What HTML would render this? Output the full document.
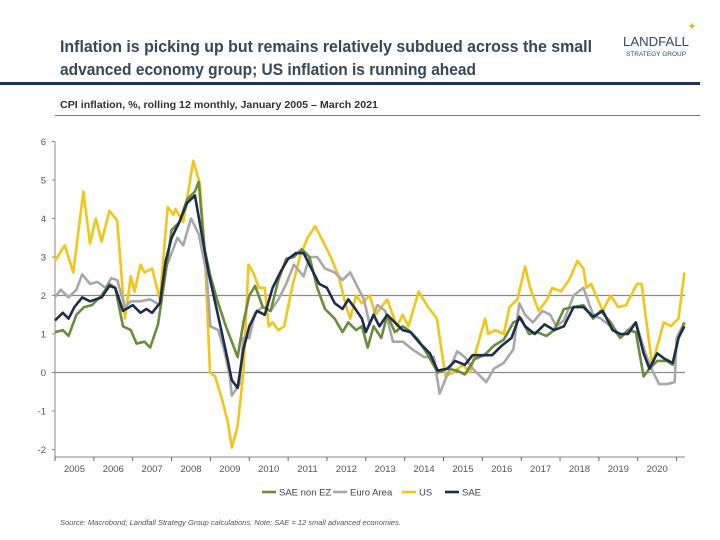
<!DOCTYPE html>
<html><head><meta charset="utf-8">
<style>
body{margin:0;background:#fff;width:720px;height:540px;overflow:hidden;font-family:"Liberation Sans",sans-serif;}
svg{display:block}
</style></head>
<body>
<svg id="c" width="720" height="540" xmlns="http://www.w3.org/2000/svg">
<text x="60" y="52" font-size="16.5" font-weight="bold" fill="#3b4656" textLength="532" lengthAdjust="spacingAndGlyphs">Inflation is picking up but remains relatively subdued across the small</text>
<text x="60" y="75" font-size="16.5" font-weight="bold" fill="#3b4656" textLength="416" lengthAdjust="spacingAndGlyphs">advanced economy group; US inflation is running ahead</text>
<g>
<text x="656" y="46" font-size="13" text-anchor="middle" fill="#2f4a6a" textLength="66" lengthAdjust="spacingAndGlyphs">LANDFALL</text>
<text x="656" y="56" font-size="6.5" text-anchor="middle" fill="#2f4a6a">STRATEGY GROUP</text>
<text x="692" y="30" font-size="11" text-anchor="middle" fill="#e0b62a">✦</text>
</g>
<rect x="0" y="82" width="700" height="3" fill="#1f3557"/>
<text x="60" y="108" font-size="10" font-weight="bold" fill="#333" textLength="318" lengthAdjust="spacingAndGlyphs">CPI inflation, %, rolling 12 monthly, January 2005 – March 2021</text>
<line x1="55" y1="115.5" x2="700" y2="115.5" stroke="#555" stroke-width="0.8"/>
<g id="axes"></g>
<g id="series"></g>
<g id="legend"></g>
<text x="60" y="525" font-size="7.5" font-style="italic" fill="#555">Source: Macrobond;  Landfall Strategy Group calculations. Note: SAE = 12 small advanced economies.</text>
</svg>
<script>
const yTicks=[-2,-1,0,1,2,3,4,5,6];
const gridValues=[0,2];
const years=[2005,2006,2007,2008,2009,2010,2011,2012,2013,2014,2015,2016,2017,2018,2019,2020];
const usT=[2005.0,2005.25,2005.47,2005.73,2005.9,2006.05,2006.2,2006.4,2006.6,2006.8,2006.95,2007.05,2007.2,2007.3,2007.5,2007.7,2007.9,2008.05,2008.1,2008.3,2008.56,2008.73,2008.86,2008.99,2009.12,2009.3,2009.45,2009.55,2009.7,2009.85,2009.98,2010.1,2010.25,2010.4,2010.5,2010.6,2010.75,2010.9,2011.1,2011.3,2011.5,2011.7,2011.9,2012.1,2012.3,2012.5,2012.6,2012.75,2012.9,2013.1,2013.25,2013.55,2013.8,2013.95,2014.1,2014.36,2014.6,2014.83,2015.05,2015.25,2015.5,2015.68,2015.85,2016.07,2016.15,2016.33,2016.55,2016.7,2016.9,2017.1,2017.23,2017.45,2017.67,2017.8,2018.02,2018.23,2018.45,2018.6,2018.68,2018.8,2018.97,2019.1,2019.3,2019.5,2019.7,2019.98,2020.1,2020.2,2020.37,2020.67,2020.85,2021.05,2021.2];
const usV=[2.9,3.3,2.6,4.7,3.35,4.0,3.4,4.2,3.95,1.4,2.5,2.1,2.8,2.6,2.7,1.9,4.3,4.1,4.25,3.9,5.5,4.9,3.0,0.0,-0.1,-0.7,-1.3,-1.95,-1.4,0.0,2.8,2.6,2.2,2.2,1.2,1.3,1.1,1.2,2.2,3.0,3.5,3.8,3.4,3.0,2.5,1.7,1.4,2.0,1.8,2.0,1.5,1.9,1.2,1.5,1.2,2.1,1.7,1.4,-0.1,0.0,0.2,0.0,0.6,1.4,1.0,1.1,1.0,1.7,1.9,2.75,2.2,1.6,1.9,2.2,2.1,2.4,2.9,2.7,2.2,2.3,1.9,1.6,2.0,1.7,1.75,2.3,2.3,1.5,0.2,1.3,1.2,1.4,2.6];
const euT=[2005.0,2005.15,2005.35,2005.55,2005.7,2005.9,2006.1,2006.3,2006.45,2006.6,2006.8,2006.95,2007.2,2007.45,2007.7,2007.85,2008.0,2008.15,2008.3,2008.5,2008.7,2008.9,2009.0,2009.2,2009.35,2009.5,2009.55,2009.75,2009.85,2010.0,2010.15,2010.35,2010.55,2010.75,2010.95,2011.15,2011.4,2011.55,2011.75,2011.95,2012.2,2012.4,2012.6,2012.8,2012.95,2013.1,2013.3,2013.5,2013.7,2013.95,2014.2,2014.5,2014.75,2014.9,2015.1,2015.35,2015.55,2015.75,2016.1,2016.3,2016.55,2016.8,2016.95,2017.1,2017.3,2017.55,2017.75,2017.9,2018.1,2018.35,2018.6,2018.85,2019.05,2019.3,2019.55,2019.75,2019.95,2020.2,2020.35,2020.55,2020.75,2020.95,2021.0,2021.2];
const euV=[1.95,2.15,1.95,2.15,2.55,2.3,2.35,2.2,2.45,2.4,1.7,1.85,1.85,1.9,1.75,2.7,3.1,3.5,3.3,4.0,3.6,2.6,1.2,1.1,0.6,-0.1,-0.6,-0.3,0.9,0.9,1.55,1.7,1.6,1.9,2.3,2.8,2.5,3.0,3.0,2.7,2.6,2.4,2.6,2.2,1.9,1.25,1.75,1.6,0.8,0.8,0.6,0.4,0.4,-0.55,-0.05,0.55,0.4,0.1,-0.25,0.1,0.25,0.6,1.8,1.5,1.3,1.6,1.5,1.2,1.35,2.0,2.2,1.5,1.4,1.2,0.9,1.1,1.3,0.5,0.1,-0.3,-0.3,-0.25,0.9,1.3];
const grT=[2005.0,2005.2,2005.35,2005.55,2005.75,2005.95,2006.2,2006.4,2006.55,2006.75,2006.95,2007.1,2007.3,2007.45,2007.65,2007.85,2008.0,2008.2,2008.4,2008.6,2008.7,2008.85,2009.0,2009.2,2009.4,2009.55,2009.7,2009.85,2010.0,2010.15,2010.35,2010.55,2010.75,2010.95,2011.15,2011.35,2011.55,2011.75,2011.95,2012.2,2012.4,2012.55,2012.75,2012.9,2013.05,2013.2,2013.4,2013.55,2013.75,2013.95,2014.1,2014.35,2014.6,2014.85,2015.1,2015.35,2015.55,2015.8,2016.05,2016.3,2016.55,2016.8,2017.0,2017.2,2017.4,2017.65,2017.85,2018.1,2018.35,2018.6,2018.85,2019.05,2019.3,2019.55,2019.75,2019.95,2020.15,2020.3,2020.5,2020.75,2020.9,2021.05,2021.2];
const grV=[1.05,1.1,0.95,1.5,1.7,1.75,2.0,2.3,2.2,1.2,1.1,0.75,0.8,0.65,1.25,2.6,3.7,3.9,4.5,4.7,4.95,3.2,2.5,1.8,1.2,0.8,0.4,1.3,2.0,2.25,1.7,1.6,2.4,2.95,3.0,3.2,3.0,2.2,1.65,1.4,1.05,1.3,1.1,1.2,0.65,1.2,0.9,1.5,1.05,1.2,1.1,0.85,0.45,0.0,0.1,0.05,-0.05,0.35,0.45,0.7,0.85,1.3,1.4,1.0,1.05,0.95,1.1,1.65,1.7,1.75,1.4,1.6,1.3,0.9,1.1,1.05,-0.1,0.1,0.3,0.3,0.2,0.9,1.3];
const saeT=[2005.0,2005.2,2005.35,2005.5,2005.7,2005.9,2006.2,2006.4,2006.55,2006.75,2007.0,2007.2,2007.35,2007.5,2007.7,2007.85,2008.0,2008.2,2008.4,2008.6,2008.95,2009.15,2009.3,2009.45,2009.55,2009.7,2009.85,2010.0,2010.2,2010.4,2010.6,2010.8,2011.0,2011.2,2011.4,2011.6,2011.8,2012.0,2012.2,2012.4,2012.55,2012.7,2012.9,2013.0,2013.2,2013.35,2013.55,2013.75,2013.95,2014.15,2014.4,2014.65,2014.85,2015.1,2015.3,2015.55,2015.75,2016.0,2016.25,2016.5,2016.75,2016.95,2017.1,2017.35,2017.6,2017.85,2018.1,2018.35,2018.6,2018.85,2019.1,2019.35,2019.55,2019.75,2019.95,2020.15,2020.3,2020.5,2020.7,2020.9,2021.05,2021.2];
const saeV=[1.35,1.55,1.4,1.7,1.95,1.85,1.95,2.25,2.2,1.6,1.75,1.55,1.65,1.55,1.8,2.9,3.5,3.9,4.4,4.6,2.6,1.7,1.0,0.3,-0.2,-0.4,0.6,1.2,1.6,1.5,2.2,2.6,2.95,3.1,3.1,2.7,2.3,2.2,1.8,1.65,1.9,1.7,1.4,1.05,1.5,1.2,1.5,1.3,1.1,1.05,0.75,0.5,0.05,0.1,0.3,0.2,0.45,0.45,0.45,0.7,0.9,1.45,1.2,1.0,1.25,1.1,1.2,1.7,1.7,1.45,1.6,1.1,1.0,1.0,1.3,0.5,0.1,0.5,0.35,0.25,0.9,1.2];

const X0=55,YW=38.85,Y0=372.5,YU=38.5;
const xs=t=>X0+(t-2005)*YW;
const ys=v=>Y0-v*YU;
const NS="http://www.w3.org/2000/svg";
function mk(tag,attrs,parent){const e=document.createElementNS(NS,tag);for(const k in attrs)e.setAttribute(k,attrs[k]);parent.appendChild(e);return e;}
const ax=document.getElementById('axes');
const yAxis=mk('line',{x1:X0,y1:ys(6),x2:X0,y2:457,stroke:'#888','stroke-width':1},ax);


const xAxis=mk('line',{x1:X0,y1:457,x2:685,y2:457,stroke:'#888','stroke-width':1},ax);


gridValues.forEach(v=>{
  const g=mk('line',{x1:X0,y1:ys(v),x2:685,y2:ys(v),stroke:'#8a8a8a','stroke-width':1.2},ax);
  
  
});
yTicks.forEach(v=>{
  mk('line',{x1:X0-3,y1:ys(v),x2:X0,y2:ys(v),stroke:'#888'},ax);
  const t=mk('text',{x:X0-9,y:ys(v)+3.5,'font-size':9.5,'text-anchor':'end',fill:'#555'},ax);
  t.textContent=String(v);
  
  
});
years.concat([2021]).forEach(y=>{mk('line',{x1:xs(y),y1:457,x2:xs(y),y2:461,stroke:'#666'},ax);});
years.forEach(y=>{
  const t=mk('text',{x:xs(y+0.5),y:472,'font-size':9.5,'text-anchor':'middle',fill:'#555'},ax);
  t.textContent=String(y);
  
  
});
const sg=document.getElementById('series');
function line(T,V,color,name){
  const d=T.map((t,i)=>(i?'L':'M')+xs(t).toFixed(1)+','+ys(V[i]).toFixed(1)).join('');
  const p=mk('path',{d:d,fill:'none',stroke:color,'stroke-width':2.6,'stroke-linejoin':'round'},sg);
  
  
}
line(usT,usV,'#f2c619','line-us');
line(euT,euV,'#a8a8a8','line-euro-area');
line(grT,grV,'#6a8c3c','line-sae-non-ez');
line(saeT,saeV,'#1f2d4c','line-sae');
const lg=document.getElementById('legend');
[['SAE non EZ','#6a8c3c',262],['Euro Area','#a8a8a8',333],['US','#f2c619',402],['SAE','#1f2d4c',445]].forEach(([n,c,x])=>{
  mk('line',{x1:x,y1:492,x2:x+14,y2:492,stroke:c,'stroke-width':2.6},lg);
  const t=mk('text',{x:x+17,y:495.5,'font-size':9.5,fill:'#444'},lg);
  t.textContent=n;
  
  
});
</script>
</body></html>
